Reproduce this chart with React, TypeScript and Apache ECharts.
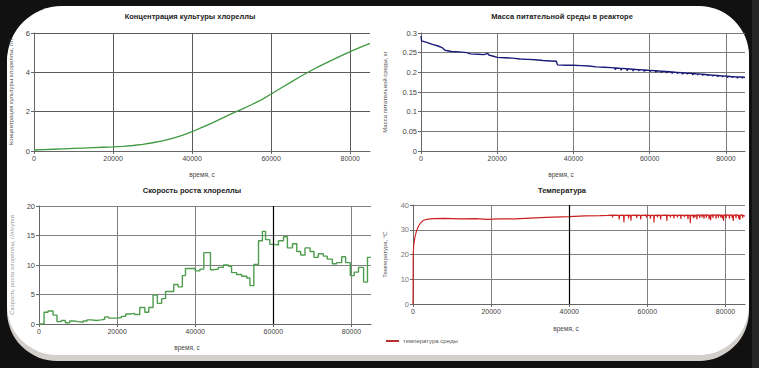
import React, { useEffect, useRef } from "react";
import * as echarts from "echarts";

// ---------- data ----------
const titles = [
  "Концентрация культуры хлореллы",
  "Масса питательной среды в реакторе",
  "Скорость роста хлореллы",
  "Температура",
];
const xAxisName = "время, с";
const yAxisNames = [
  "Концентрация культуры хлореллы, г/л",
  "Масса питательной среды, кг",
  "Скорость роста хлореллы, г/л/сутки",
  "Температура, °С",
];
const legendName = "температура среды";

// concentration [time, g/l]
const concPoints: number[][] = [
  [0, 0.05], [2500, 0.07], [5000, 0.09], [7500, 0.11], [10000, 0.13],
  [12500, 0.15], [15000, 0.17], [17500, 0.19], [20000, 0.21], [22500, 0.24],
  [25000, 0.28], [27500, 0.34], [30000, 0.42], [32500, 0.52], [35000, 0.64],
  [37500, 0.8], [40000, 0.98], [42500, 1.2], [45000, 1.42], [47500, 1.66],
  [50000, 1.9], [52500, 2.12], [55000, 2.35], [57500, 2.6], [60000, 2.9],
  [62500, 3.2], [65000, 3.5], [67500, 3.8], [70000, 4.08], [72500, 4.34],
  [75000, 4.58], [77500, 4.82], [80000, 5.05], [82500, 5.27], [85000, 5.47],
];

// medium mass [time, kg]
const massPoints: number[][] = [
  [0, 0.292], [150, 0.28], [1500, 0.276], [3000, 0.271], [4500, 0.267],
  [5500, 0.263], [6300, 0.256], [8000, 0.253], [10000, 0.252], [12000, 0.25],
  [13000, 0.247], [15000, 0.246], [16500, 0.245], [17500, 0.248], [17800, 0.244],
  [19000, 0.241], [20000, 0.238], [22000, 0.237], [24000, 0.236], [26000, 0.234],
  [28000, 0.233], [30000, 0.232], [32000, 0.23], [34000, 0.229], [35500, 0.228],
  [35800, 0.219], [38000, 0.218], [40000, 0.218], [42000, 0.217], [44000, 0.216],
  [46000, 0.214], [48000, 0.213], [50000, 0.212],
  [50900, 0.211], [51000, 0.206], [51100, 0.211],
  [52400, 0.21], [52500, 0.205], [52600, 0.21],
  [54000, 0.209], [54100, 0.204], [54200, 0.209],
  [55500, 0.208], [55600, 0.203], [55700, 0.208],
  [57000, 0.207], [57100, 0.203], [57200, 0.207],
  [58500, 0.206], [58600, 0.202], [58700, 0.206],
  [60000, 0.205], [60100, 0.201], [60200, 0.205],
  [61500, 0.204], [61600, 0.2], [61700, 0.204],
  [63000, 0.203], [63100, 0.199], [63200, 0.203],
  [64300, 0.202], [64400, 0.198], [64500, 0.202],
  [65800, 0.201], [65900, 0.197], [66000, 0.201],
  [67200, 0.2], [67300, 0.196], [67400, 0.2],
  [68500, 0.199], [68600, 0.195], [68700, 0.199],
  [69800, 0.198], [69900, 0.195], [70000, 0.198],
  [71200, 0.197], [71300, 0.193], [71400, 0.197],
  [72500, 0.196], [72600, 0.193], [72700, 0.196],
  [73800, 0.195], [73900, 0.192], [74000, 0.195],
  [75100, 0.194], [75200, 0.191], [75300, 0.194],
  [76400, 0.193], [76500, 0.19], [76600, 0.193],
  [77700, 0.192], [77800, 0.189], [77900, 0.192],
  [79000, 0.191], [79100, 0.188], [79200, 0.191],
  [80300, 0.19], [80400, 0.187], [80500, 0.19],
  [81600, 0.189], [81700, 0.186], [81800, 0.189],
  [82900, 0.188], [83000, 0.185], [83100, 0.188],
  [84200, 0.188], [84300, 0.185], [84400, 0.188],
  [85000, 0.187],
];

// growth rate (step) [time, g/l/day]
const ratePoints: number[][] = [
  [0, 0], [1300, 2.0], [2300, 2.2], [3600, 1.5], [4600, 0.4], [5700, 0.6],
  [6750, 0.2], [7860, 0.5], [8900, 0.4], [10000, 0.3], [11300, 0.5], [12300, 0.7],
  [13400, 0.6], [14700, 0.7], [15900, 0.8], [16800, 1.2], [17800, 1.0], [19000, 1.0],
  [20000, 1.1], [21100, 1.3], [22200, 1.7], [23300, 1.8], [24500, 1.6], [25800, 2.8],
  [27100, 2.0], [28100, 2.8], [29200, 4.9], [30300, 3.5], [31400, 4.3], [32400, 5.5],
  [33500, 5.5], [34500, 6.7], [35600, 6.3], [36700, 8.2], [37500, 9.4], [38600, 9.4],
  [40000, 9.0], [41200, 9.3], [42200, 12.1], [43900, 9.2], [44600, 9.3], [45900, 9.6],
  [47200, 10.0], [48500, 9.8], [49300, 8.7], [50600, 8.4], [51900, 8.1], [53200, 7.8],
  [54000, 6.5], [55000, 10.1], [56200, 14.1], [57200, 15.7], [58000, 14.3], [59100, 13.5],
  [60200, 13.4], [61300, 14.1], [62600, 14.8], [63600, 12.9], [64900, 13.6], [66000, 12.3],
  [67000, 11.7], [68100, 12.9], [69400, 12.3], [70400, 11.3], [71500, 11.9], [72800, 11.5],
  [73800, 11.0], [75100, 10.2], [76200, 10.4], [77500, 11.4], [78500, 10.4], [79700, 8.2],
  [80700, 8.8], [81800, 9.6], [83100, 7.1], [84100, 11.3], [85000, 11.3],
];

// temperature [time, °C]
const tempPoints: number[][] = [
  [0, 0], [50, 20], [200, 24], [500, 27], [900, 29.5], [1300, 31], [1800, 32.5],
  [2500, 33.6], [3500, 34.2], [5000, 34.5], [8000, 34.6], [12000, 34.4], [16000, 34.5],
  [19000, 34.2], [22000, 34.4], [26000, 34.4], [30000, 34.7], [34000, 35.0],
  [38000, 35.2], [40000, 35.3], [44000, 35.6], [48000, 35.7], [50000, 35.8],
  [51000, 35.9], [51100, 35.0], [51200, 35.9],
  [52700, 35.8], [52800, 34.2], [52900, 35.8],
  [53900, 35.9], [54000, 32.9], [54100, 35.8],
  [55100, 35.9], [55200, 34.6], [55300, 35.9],
  [55700, 35.8], [55800, 33.7], [55900, 35.8],
  [57200, 35.9], [57300, 34.8], [57400, 35.9],
  [58200, 35.8], [58300, 34.2], [58400, 35.8],
  [59700, 35.9], [59800, 34.9], [59900, 35.9],
  [60700, 35.8], [60800, 34.5], [60900, 35.8],
  [61600, 35.8], [61700, 32.9], [61800, 35.8],
  [62500, 35.9], [62600, 35.0], [62700, 35.9],
  [63300, 35.8], [63400, 34.2], [63500, 35.8],
  [64900, 35.9], [65000, 33.6], [65100, 35.9],
  [65800, 35.8], [65900, 35.0], [66000, 35.8],
  [66700, 35.9], [66800, 34.6], [66900, 35.9],
  [67600, 35.8], [67700, 35.0], [67800, 35.8],
  [68500, 35.9], [68600, 34.4], [68700, 35.9],
  [69400, 35.8], [69500, 35.1], [69600, 35.8],
  [70300, 35.9], [70400, 34.3], [70500, 35.9],
  [70900, 35.8], [71000, 32.6], [71100, 35.8],
  [71700, 35.9], [71800, 34.7], [71900, 35.9],
  [72100, 35.8], [72200, 35.0], [72300, 35.8],
  [72600, 35.9], [72700, 34.2], [72800, 36.0],
  [73300, 35.9], [73400, 34.8], [73500, 35.9],
  [73900, 36.0], [74000, 35.0], [74100, 36.0],
  [74400, 35.9], [74500, 34.5], [74600, 35.9],
  [75000, 36.0], [75100, 34.9], [75200, 36.0],
  [75700, 35.9], [75800, 34.3], [75900, 35.9],
  [76100, 35.8], [76200, 33.9], [76300, 35.9],
  [76700, 36.0], [76800, 34.8], [76900, 36.0],
  [77500, 35.9], [77600, 34.5], [77700, 35.9],
  [78100, 36.0], [78200, 34.9], [78300, 36.0],
  [78700, 35.9], [78800, 35.0], [78900, 35.9],
  [79100, 36.0], [79200, 34.6], [79300, 36.0],
  [79400, 35.8], [79500, 33.7], [79600, 35.9],
  [80100, 36.0], [80200, 34.8], [80300, 36.0],
  [80900, 35.9], [81000, 34.5], [81100, 35.9],
  [81600, 36.0], [81700, 34.9], [81800, 36.0],
  [81900, 35.8], [82000, 33.6], [82100, 35.9],
  [82600, 36.0], [82700, 34.7], [82800, 36.0],
  [83300, 35.9], [83400, 34.5], [83500, 35.9],
  [83600, 35.8], [83700, 34.0], [83800, 35.9],
  [84300, 36.0], [84400, 34.8], [84500, 35.9],
  [85000, 35.5],
];

const yRanges = [
  { min: 0, max: 6, interval: 2 },
  { min: 0, max: 0.3, interval: 0.05 },
  { min: 0, max: 20, interval: 5 },
  { min: 0, max: 40, interval: 10 },
];

// ---------- layout ----------
const FONT = "'Liberation Sans', Arial, sans-serif";
const grids = [
  { left: 34, top: 33, width: 336, height: 118 },
  { left: 421, top: 33, width: 324, height: 118 },
  { left: 39, top: 206, width: 332, height: 118 },
  { left: 413, top: 205, width: 332, height: 99 },
];
const titlePos = [
  { left: 190, top: 12 },
  { left: 562, top: 12 },
  { left: 192, top: 186 },
  { left: 562, top: 186 },
];
const gridColors = ["#5a5a5a", "#7a7a7a", "#808080", "#808080"];
const yNameGaps = [20, 33, 24, 25];
const xNamePad = [
  [0, 0, 0, 0],
  [0, 44, 0, 0],
  [0, 36, 0, 0],
  [0, 26, 0, 0],
];

export default function App() {
  const ref = useRef<HTMLDivElement>(null);
  useEffect(() => {
    if (!ref.current) return;
    const chart = echarts.init(ref.current, undefined, { renderer: "svg" });

    const xAxis = grids.map((_, i) => ({
      type: "value",
      gridIndex: i,
      min: 0,
      max: 85000,
      interval: 20000,
      name: xAxisName,
      nameLocation: "middle",
      nameGap: i === 3 ? 21 : 20,
      nameTextStyle: { fontSize: 6.5, color: "#444", fontFamily: FONT, padding: xNamePad[i] },
      axisLine: { show: true, lineStyle: { color: "#666", width: 1 } },
      axisTick: { show: true, length: 3, lineStyle: { color: "#666" } },
      axisLabel: {
        fontSize: 7,
        color: "#444",
        fontFamily: FONT,
        margin: 4,
        showMaxLabel: false,
        formatter: (v: number) => String(v),
      },
      splitLine: { show: true, showMaxLine: false, lineStyle: { color: gridColors[i], width: 1 } },
    }));

    const yAxis = grids.map((_, i) => ({
      type: "value",
      gridIndex: i,
      min: yRanges[i].min,
      max: yRanges[i].max,
      interval: yRanges[i].interval,
      name: yAxisNames[i],
      nameLocation: "middle",
      nameGap: yNameGaps[i],
      nameRotate: 90,
      nameTextStyle: { fontSize: 6, color: i === 2 ? "#999" : "#555", fontFamily: FONT },
      axisLine: { show: true, lineStyle: { color: "#666", width: 1 } },
      axisTick: { show: true, length: 3, lineStyle: { color: "#666" } },
      axisLabel: {
        fontSize: 7.5,
        color: i === 3 ? "#777" : "#444",
        fontFamily: FONT,
        margin: 4,
        formatter: (v: number) => String(v),
      },
      splitLine: { show: true, lineStyle: { color: gridColors[i], width: 1 } },
    }));

    const markLineAt = (x: number) => ({
      silent: true,
      symbol: "none",
      label: { show: false },
      lineStyle: { color: "#000", width: 1.2, type: "solid" },
      data: [{ xAxis: x }],
    });

    const option: any = {
      animation: false,
      backgroundColor: "#111",
      graphic: [
        {
          type: "rect",
          z: -10,
          silent: true,
          shape: { x: 7, y: 9, width: 742, height: 352, r: [55, 50, 50, 50] },
          style: { fill: "#d3cfcb" },
        },
        {
          type: "rect",
          z: -9,
          silent: true,
          shape: { x: 7, y: 6, width: 742, height: 349, r: [55, 50, 50, 50] },
          style: { fill: "#ffffff" },
        },
        {
          type: "rect",
          z: -11,
          silent: true,
          shape: { x: 752, y: 0, width: 7, height: 368 },
          style: { fill: "#262626" },
        },
      ],
      title: titles.map((t, i) => ({
        text: t,
        left: titlePos[i].left,
        top: titlePos[i].top,
        textAlign: "center",
        padding: 0,
        textStyle: { fontSize: 7.5, fontWeight: "bold", color: "#222", fontFamily: FONT },
      })),
      legend: {
        show: true,
        left: 386,
        top: 338,
        itemWidth: 13,
        itemHeight: 2,
        icon: "rect",
        padding: 0,
        itemGap: 4,
        data: [legendName],
        textStyle: { fontSize: 6, color: "#555", fontFamily: FONT, padding: [0, 0, 0, -1] },
      },
      grid: grids.map((g) => ({ ...g, containLabel: false })),
      xAxis,
      yAxis,
      series: [
        {
          type: "line",
          name: "conc",
          xAxisIndex: 0,
          yAxisIndex: 0,
          showSymbol: false,
          data: concPoints,
          lineStyle: { color: "#3f9a3f", width: 1.3 },
          itemStyle: { color: "#3f9a3f" },
        },
        {
          type: "line",
          name: "mass",
          xAxisIndex: 1,
          yAxisIndex: 1,
          showSymbol: false,
          data: massPoints,
          lineStyle: { color: "#1c1c78", width: 1.4 },
          itemStyle: { color: "#1c1c78" },
        },
        {
          type: "line",
          name: "rate",
          xAxisIndex: 2,
          yAxisIndex: 2,
          step: "end",
          showSymbol: false,
          data: ratePoints,
          lineStyle: { color: "#4f9d4f", width: 1.4 },
          itemStyle: { color: "#4f9d4f" },
          markLine: markLineAt(60000),
        },
        {
          type: "line",
          name: legendName,
          xAxisIndex: 3,
          yAxisIndex: 3,
          showSymbol: false,
          data: tempPoints,
          lineStyle: { color: "#cc1f1f", width: 1.1 },
          itemStyle: { color: "#b83030" },
          markLine: markLineAt(40000),
        },
      ],
    };
    chart.setOption(option);
    return () => chart.dispose();
  }, []);

  return (
    <div
      ref={ref}
      style={{ position: "absolute", left: 0, top: 0, width: 759, height: 368, background: "#111" }}
    />
  );
}
